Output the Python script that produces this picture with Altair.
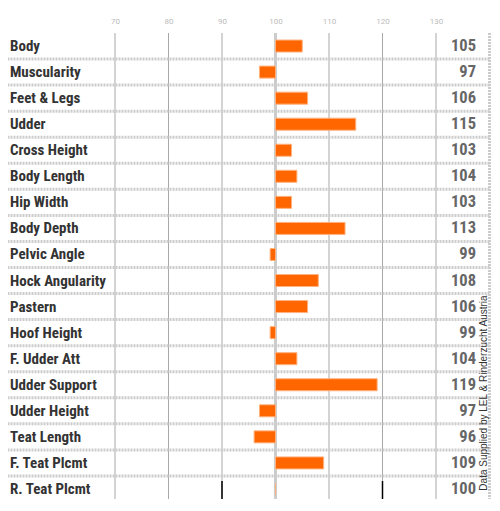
import altair as alt
import pandas as pd

traits = ["Body", "Muscularity", "Feet & Legs", "Udder", "Cross Height", "Body Length",
          "Hip Width", "Body Depth", "Pelvic Angle", "Hock Angularity", "Pastern",
          "Hoof Height", "F. Udder Att", "Udder Support", "Udder Height", "Teat Length",
          "F. Teat Plcmt", "R. Teat Plcmt"]
values = [105, 97, 106, 115, 103, 104, 103, 113, 99, 108, 106, 99, 104, 119, 97, 96, 109, 100]
grid_ticks = [70, 80, 90, 110, 120, 130]
axis_ticks = [70, 80, 90, 100, 110, 120, 130]
x_domain = [50, 140]
baseline = 100
slider_range = [110, 140]
credit = "Data Supplied by LEL & Rinderzucht Austria"

df = pd.DataFrame({"trait": traits, "value": values})
sep_df = pd.DataFrame({"trait": traits[1:]})
grid_df = pd.DataFrame({"x": grid_ticks})

FONT = "Roboto Condensed, DejaVu Sans Condensed, Roboto"
W, H = 481.5, 466
ROWS = 469

xscale = alt.Scale(domain=x_domain, nice=False, zero=False)
yscale = alt.Scale(domain=traits, range=[0, ROWS], paddingInner=0, paddingOuter=0)
X_AX = alt.Axis(orient="top", values=axis_ticks, labelColor="#bbbbbb", labelFontSize=8,
                labelFont="Roboto", ticks=False, domain=False, grid=False, labelPadding=8,
                title=None)

grid = alt.Chart(grid_df).mark_rule(color="#a8a8a8", strokeWidth=1).encode(
    x=alt.X("x:Q", scale=xscale, axis=X_AX), y=alt.value(0), y2=alt.value(ROWS + 10)
)
base_line = alt.Chart(pd.DataFrame({"x": [baseline]})).mark_rule(
    color="#cccccc", strokeWidth=3).encode(x=alt.X("x:Q", scale=xscale),
                                           y=alt.value(0), y2=alt.value(ROWS + 10))

seps = alt.Chart(sep_df).mark_rule(color="#cccccc", strokeWidth=3, strokeDash=[2, 1]).encode(
    y=alt.Y("trait:N", scale=yscale, axis=None, bandPosition=0)
)
right_edge = alt.Chart(pd.DataFrame({"x": [x_domain[1]]})).mark_rule(
    color="#cccccc", strokeWidth=3, strokeDash=[2, 1]).encode(
    x=alt.X("x:Q", scale=xscale), y=alt.value(0), y2=alt.value(ROWS + 10))

bars = alt.Chart(df).mark_bar(size=12, color="#ff6600", stroke="#ffb27f", strokeWidth=1).encode(
    x=alt.X("value:Q", scale=xscale),
    x2=alt.datum(baseline),
    y=alt.Y("trait:N", scale=yscale, axis=None),
)

names = alt.Chart(df).mark_text(align="left", baseline="middle", font=FONT, fontWeight="bold",
                                fontSize=15, color="#333333").encode(
    x=alt.value(2),
    y=alt.Y("trait:N", scale=yscale, axis=None),
    text="trait:N",
)
nums = alt.Chart(df).mark_text(align="right", baseline="middle", font=FONT, fontWeight="bold",
                               fontSize=16.5, color="#666666").encode(
    x=alt.value(468),
    y=alt.Y("trait:N", scale=yscale, axis=None),
    text="value:Q",
)

slider_df = pd.DataFrame({"a": [slider_range[0]], "b": [slider_range[1]]})
slider = alt.Chart(slider_df).mark_rect(color="#f0f0f0").encode(
    x=alt.X("a:Q", scale=xscale), x2="b:Q",
    y=alt.value(-33), y2=alt.value(-26),
)
handles = alt.Chart(pd.DataFrame({"x": slider_range})).mark_rule(
    color="#ff6600", strokeWidth=4).encode(
    x=alt.X("x:Q", scale=xscale), y=alt.value(-33), y2=alt.value(-26))

marks_df = pd.DataFrame({"x": [90, 120]})
black = alt.Chart(marks_df).mark_rule(color="#000000", strokeWidth=1.5).encode(
    x=alt.X("x:Q", scale=xscale), y=alt.value(448), y2=alt.value(ROWS + 10))

credit_txt = alt.Chart(pd.DataFrame({"t": [credit]})).mark_text(
    angle=270, align="center", baseline="middle", font="Liberation Sans", fontSize=10,
    color="#333333").encode(x=alt.value(475.5), y=alt.value(360), text="t:N")

chart = alt.layer(grid, base_line, seps, right_edge, bars, black, names, nums, slider, handles,
                  credit_txt).properties(
    width=W, height=H,
    autosize=alt.AutoSizeParams(type="none"),
    padding={"left": 0, "top": 25, "right": 2.5, "bottom": 0},
).configure_view(strokeWidth=0)

chart.save("out.html", embed_options={"renderer": "svg", "actions": False})
